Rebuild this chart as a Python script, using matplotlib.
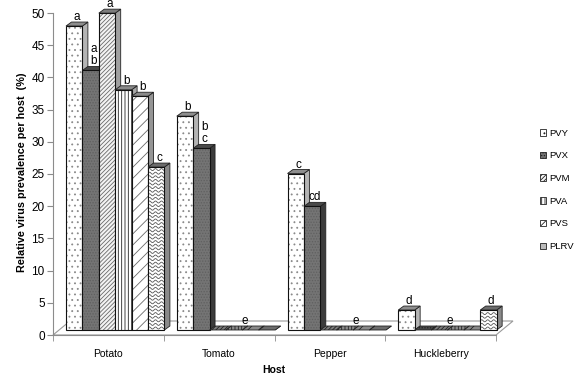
import matplotlib
matplotlib.use("Agg")
import matplotlib.pyplot as plt
from matplotlib.patches import Rectangle, Polygon, Patch
import numpy as np

plt.rcParams['font.family'] = ['Liberation Sans', 'DejaVu Sans']
plt.rcParams['hatch.linewidth'] = 0.6

###################################
# data: relative prevalence (%) per host and virus
###################################
hosts = ['Potato', 'Tomato', 'Pepper', 'Huckleberry']
viruses = ['PVY', 'PVX', 'PVM', 'PVA', 'PVS', 'PLRV']

pvy = [47.2, 33.2, 24.3, 3.1]
pvx = [40.3, 28.2, 19.2, 0.0]
pvm = [49.2, 0.0, 0.0, 0.0]
pva = [37.3, 0.0, 0.0, 0.0]
pvs = [36.3, 0.0, 0.0, 0.0]
plrv = [25.3, 0.0, 0.0, 3.1]

# significance letters above each bar
let_pvy = ['a', 'b', 'c', 'd']
let_pvx = ['a\nb', 'b\nc', 'cd', '']
let_pvm = ['a', '', '', '']
let_pva = ['b', '', '', '']
let_pvs = ['b', '', '', '']
let_plrv = ['c', '', '', 'd']
# one letter shared by the zero bars of a host
let_zero = ['', 'e', 'e', 'e']

values = [pvy, pvx, pvm, pva, pvs, plrv]
letters = [let_pvy, let_pvx, let_pvm, let_pva, let_pvs, let_plrv]

# front / side / top colours and hatch for every series
styles = {
    'PVY':  dict(front='#ffffff', side='#b4b4b4', top='#8e8e8e', hatch='...', hc='#8a8a8a'),
    'PVX':  dict(front='#747474', side='#3c3c3c', top='#4a4a4a', hatch='......', hc='#606060'),
    'PVM':  dict(front='#f4f4f4', side='#a0a0a0', top='#7c7c7c', hatch='////////', hc='#6a6a6a'),
    'PVA':  dict(front='#ffffff', side='#a8a8a8', top='#8a8a8a', hatch='|||||', hc='#222222'),
    'PVS':  dict(front='#ffffff', side='#959595', top='#8a8a8a', hatch='///', hc='#6a6a6a'),
    'PLRV': dict(front='#ffffff', side='#8a8a8a', top='#6c6c6c', hatch='', hc='#555555'),
}

###################################
# layout (pixels)
###################################
W, H = 574, 377
x_left, x_right = 53, 496
y_bot, y_top = 335, 13

fig = plt.figure(figsize=(W / 100, H / 100), dpi=100)
ax = fig.add_axes([x_left / W, 1 - y_bot / H, (x_right - x_left) / W, (y_bot - y_top) / H])
ax.set_xlim(0, len(hosts))
ax.set_ylim(0, 50)

px_x = (x_right - x_left) / len(hosts)
px_y = (y_bot - y_top) / 50.0

group_off = 13 / px_x
bar_w = 16.4 / px_x
bar_dx = 5.5 / px_x
bar_dy = 4.0 / px_y
base = 5.0 / px_y
floor_dx = 17 / px_x
floor_dy = 14 / px_y
lab_gap = 2.0 / px_y

# floor of the 3d box
floor = Polygon([(0, 0), (len(hosts), 0), (len(hosts) + floor_dx, floor_dy), (floor_dx, floor_dy)],
                closed=True, fill=False, edgecolor='#9a9a9a', lw=0.8, zorder=2, clip_on=False)
ax.add_patch(floor)


def wavy(ax, x, y0, w, h, clip):
    xs = np.linspace(x, x + w, 40)
    for yr in np.arange(y0 + 2.0 / px_y, y0 + h, 3.6 / px_y):
        ys = yr + (1.0 / px_y) * np.sin(2 * np.pi * (xs - x) * px_x / 6.0)
        ln, = ax.plot(xs, ys, color='#555555', lw=0.6, zorder=3, clip_on=True)
        ln.set_clip_path(clip)


for g, host in enumerate(hosts):
    x0 = g + group_off
    zero_x = []
    for i, name in enumerate(viruses):
        st = styles[name]
        h = values[i][g]
        x = x0 + i * bar_w
        y1 = base + h
        side = Polygon([(x + bar_w, base), (x + bar_w + bar_dx, base + bar_dy),
                        (x + bar_w + bar_dx, y1 + bar_dy), (x + bar_w, y1)],
                       closed=True, facecolor=st['side'], edgecolor='#222222', lw=0.6,
                       zorder=3, clip_on=False)
        ax.add_patch(side)
        top = Polygon([(x, y1), (x + bar_w, y1), (x + bar_w + bar_dx, y1 + bar_dy), (x + bar_dx, y1 + bar_dy)],
                      closed=True, facecolor=st['top'], edgecolor='#222222', lw=0.6,
                      hatch=st['hatch'] if h == 0 else None, zorder=3, clip_on=False)
        ax.add_patch(top)
        if h > 0:
            front = Rectangle((x, base), bar_w, h, facecolor=st['front'], edgecolor=st['hc'],
                              hatch=st['hatch'], lw=0, zorder=3, clip_on=False)
            ax.add_patch(front)
            if name == 'PLRV':
                wavy(ax, x, base, bar_w, h, front)
            outline = Rectangle((x, base), bar_w, h, fill=False, edgecolor='#111111', lw=0.8,
                                zorder=3, clip_on=False)
            ax.add_patch(outline)
        else:
            zero_x.append(x + bar_w / 2)
        if letters[i][g]:
            ax.text(x + bar_w / 2 + bar_dx / 2, y1 + bar_dy + lab_gap, letters[i][g], ha='center',
                    va='baseline', fontsize=8.5, linespacing=1.0, zorder=5)
    if let_zero[g] and zero_x:
        ax.text(np.mean(zero_x) + bar_dx / 2, base + bar_dy + lab_gap, let_zero[g], ha='center',
                va='baseline', fontsize=8.5, zorder=5)

###################################
# axes styling
###################################
for s in ['top', 'right']:
    ax.spines[s].set_visible(False)
for s in ['left', 'bottom']:
    ax.spines[s].set_color('#8c8c8c')
    ax.spines[s].set_linewidth(0.8)

ax.set_yticks(np.arange(0, 51, 5))
ax.tick_params(axis='y', length=4, color='#8c8c8c', labelsize=8.5, pad=2)
ax.set_xticks(np.arange(len(hosts)) + 0.5)
ax.set_xticklabels(hosts, fontsize=7.5)
ax.set_xticks(np.arange(len(hosts) + 1), minor=True)
ax.tick_params(axis='x', which='major', length=0, pad=10)
ax.tick_params(axis='x', which='minor', length=4, color='#8c8c8c')

fig.text(22 / W, 1 - 172 / H, 'Relative virus prevalence per host  (%)', rotation=90,
         ha='center', va='center', fontsize=7.8, fontweight='bold')
fig.text(274 / W, 1 - 370 / H, 'Host', ha='center', va='center', fontsize=7.5, fontweight='bold')

handles = [Patch(facecolor=styles[v]['front'] if v != 'PLRV' else '#bbbbbb', edgecolor='#222222',
                 hatch=styles[v]['hatch'], lw=0.6) for v in viruses]
fig.legend(handles, viruses, loc='upper left', bbox_to_anchor=(535 / W, 1 - 124 / H),
           frameon=False, fontsize=6.8, handlelength=0.7, handleheight=0.7, handletextpad=0.3,
           labelspacing=1.45, borderpad=0)

fig.savefig('out.png', dpi=100)
